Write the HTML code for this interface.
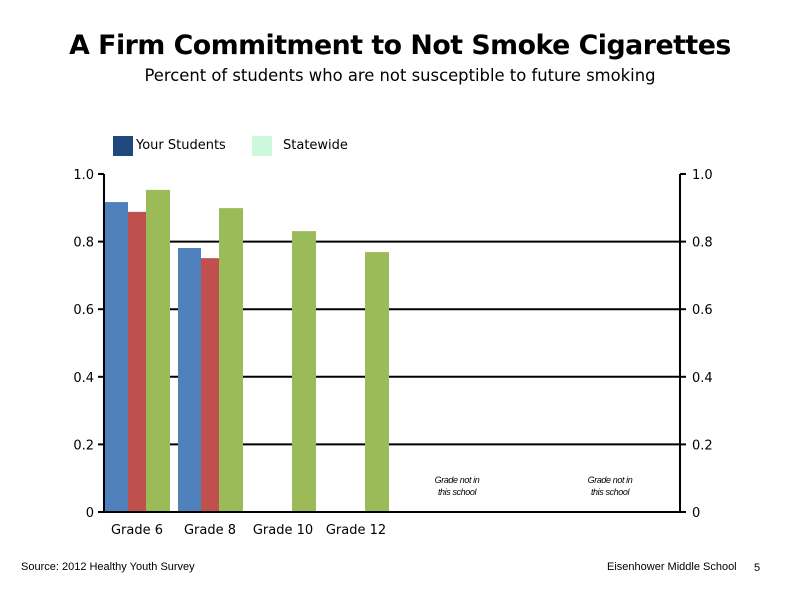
<!DOCTYPE html>
<html><head><meta charset="utf-8"><style>
body{margin:0;width:800px;height:600px;background:#fff;font-family:"Liberation Sans","DejaVu Sans",sans-serif;position:relative;overflow:hidden}
.abs{position:absolute}
</style></head><body>
<div class="abs" style="left:0;width:800px;top:30px;text-align:center;font-size:26.8px;font-weight:bold;font-family:'DejaVu Sans',sans-serif;letter-spacing:-0.5px">A Firm Commitment to Not Smoke Cigarettes</div>
<div class="abs" style="left:0;width:800px;top:66px;text-align:center;font-size:16.4px;font-family:'DejaVu Sans',sans-serif">Percent of students who are not susceptible to future smoking</div>
<div class="abs" style="left:113px;top:136px;width:20px;height:20px;background:#1f497d"></div>
<div class="abs" style="left:136px;top:138px;font-size:13px;font-family:'DejaVu Sans',sans-serif">Your Students</div>
<div class="abs" style="left:252px;top:136px;width:20px;height:20px;background:#ccf8dc"></div>
<div class="abs" style="left:283px;top:138px;font-size:13px;font-family:'DejaVu Sans',sans-serif">Statewide</div>
<svg class="abs" style="left:0;top:0" width="800" height="600" id="chart"></svg>
<div class="abs" style="left:21px;top:561px;font-size:11px">Source: 2012 Healthy Youth Survey</div>
<div class="abs" style="left:607px;top:561px;font-size:11px">Eisenhower Middle  School</div>
<div class="abs" style="left:754px;top:562px;font-size:11px">5</div>
<script>
const categories=["Grade 6","Grade 8","Grade 10","Grade 12"];
const seriesBlue=[0.917,0.781,null,null];
const seriesRed=[0.888,0.751,null,null];
const seriesGreen=[0.953,0.899,0.831,0.769];
const yTicks=["0","0.2","0.4","0.6","0.8","1.0"];
const NS="http://www.w3.org/2000/svg";
const svg=document.getElementById('chart');
const x0=104,x1=680,yb=512,yt=174;
const y=v=>yb-(yb-yt)*v;
const gx=i=>137+73*i;
function el(t,a){const e=document.createElementNS(NS,t);for(const k in a)e.setAttribute(k,a[k]);svg.appendChild(e);return e;}
yTicks.forEach((t,i)=>{const v=parseFloat(t);const yy=y(v);
 if(v<1){const g=el('line',{x1:x0,x2:x1,y1:yy,y2:yy,stroke:'#000','stroke-width':2});}
 const tl=el('line',{x1:x0-6,x2:x0,y1:yy,y2:yy,stroke:'#000','stroke-width':2});
 const tr=el('line',{x1:x1,x2:x1+6,y1:yy,y2:yy,stroke:'#000','stroke-width':2});
 const a=el('text',{x:x0-10,y:yy+5,'text-anchor':'end','font-size':13,'font-family':'DejaVu Sans, sans-serif'});a.textContent=t;
 const b=el('text',{x:x1+12,y:yy+5,'font-size':13,'font-family':'DejaVu Sans, sans-serif'});b.textContent=t;
});
function bar(v,x,w,c,n){if(v==null)return;const r=el('rect',{x:x,y:y(v),width:w,height:yb-y(v),fill:c});}
categories.forEach((c,i)=>{const cx=gx(i);
 bar(seriesBlue[i],cx-32,23,'#4f81bd','bar-your-students');
 bar(seriesRed[i],cx-9,21,'#c0504d','bar-red-series');
 bar(seriesGreen[i],cx+9,24,'#9bbb59','bar-statewide');
 const t=el('text',{x:cx,y:534,'text-anchor':'middle','font-size':13,'font-family':'DejaVu Sans, sans-serif'});t.textContent=c;
});
[[0,yb,x1,yb],[x0,yt,x0,yb],[x1,yt,x1,yb]].forEach(p=>{const l=el('line',{x1:p[0]||x0,y1:p[1],x2:p[2],y2:p[3],stroke:'#000','stroke-width':2});});
[457,610].forEach(cx=>{[['Grade not in',483],['this school',495]].forEach(s=>{const t=el('text',{x:cx,y:s[1],'text-anchor':'middle','font-size':9,'font-style':'italic','letter-spacing':'-0.4'});t.textContent=s[0];});});
</script>
</body></html>
